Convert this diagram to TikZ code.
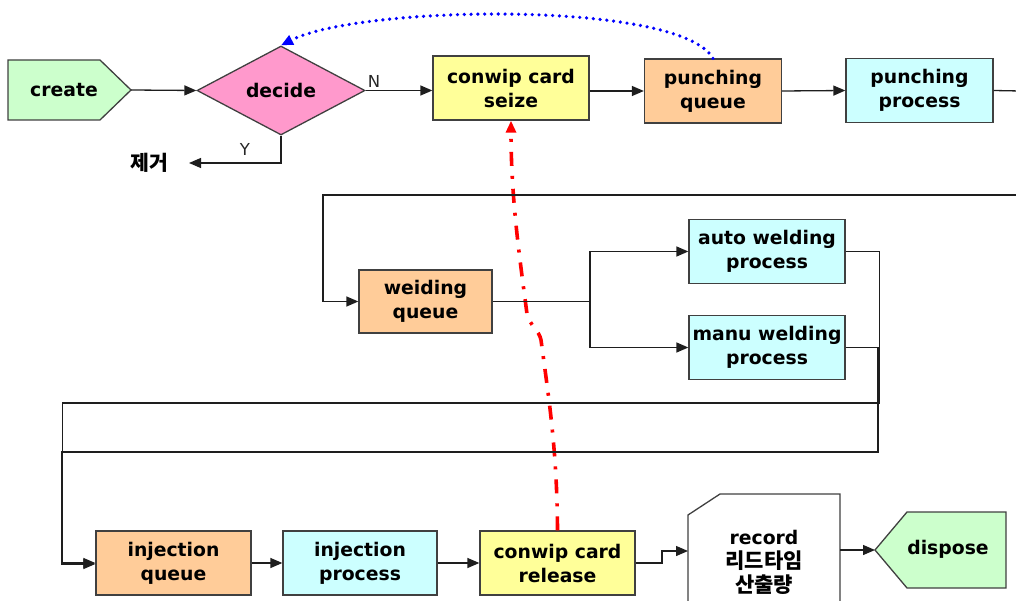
\documentclass[tikz,border=0pt]{standalone}
\usepackage{fontspec}
\setmainfont{DejaVu Sans}
\newfontfamily\kr{Noto Sans CJK KR}
\usetikzlibrary{shapes.geometric,arrows.meta,calc}

\definecolor{bordergray}{HTML}{404040}
\definecolor{linegray}{HTML}{1E1E1E}
\definecolor{fillgreen}{HTML}{CCFFCC}
\definecolor{fillpink}{HTML}{FF99CC}
\definecolor{fillyellow}{HTML}{FFFF99}
\definecolor{fillorange}{HTML}{FFCC99}
\definecolor{fillcyan}{HTML}{CCFFFF}

\tikzset{
  lbl/.style={font=\fontsize{18.8}{24}\selectfont\bfseries, align=center},
  block/.style={lbl, draw=bordergray, line width=1.3pt, minimum width=156pt,
    minimum height=64pt, inner sep=0pt},
  queuebox/.style={block, fill=fillorange},
  procbox/.style={block, fill=fillcyan},
  cardbox/.style={block, fill=fillyellow},
  termshape/.style={draw=bordergray, line width=1.3pt, fill=fillgreen},
  wire/.style={draw=linegray, line width=1.3pt},
  flow/.style={wire, -{Triangle[length=12pt,width=10pt]}},
  cardlink/.style={draw=red, line width=3.6pt, dash pattern=on 14pt off 10pt on 3pt off 10pt,
    -{Triangle[length=12pt,width=10pt]}},
  bypass/.style={draw=blue, line width=3.6pt, line cap=round, dash pattern=on 0pt off 6.8pt,
    -{Triangle[length=12pt,width=10pt]}},
  branchlbl/.style={font=\fontsize{16.5}{16.5}\selectfont, text=black!85}
}

\begin{document}
\begin{tikzpicture}[x=1pt,y=-1pt]
\useasboundingbox (0,0) rectangle (1016,601);
\clip (0,0) rectangle (1016,601);

% ---- top row ----
\draw[termshape] (8,60) -- (100,60) -- (131,90) -- (100,120) -- (8,120) -- cycle;
\node[lbl] (create) at (64,90) {create};
\coordinate (createtip) at (131,90);

\node[diamond, lbl, draw=bordergray, fill=fillpink, line width=1.3pt, inner sep=0pt,
      minimum width=168pt, minimum height=89pt] (decide) at (281,90.5) {decide};

\node[cardbox] (seize) at (511,88) {conwip card\\seize};
\node[queuebox, minimum width=137pt] (pq) at (713,91) {punching\\queue};
\node[procbox, minimum width=147pt] (pp) at (919.5,90.5) {punching\\process};

\node[font=\kr\bfseries\fontsize{20.5}{20.5}\selectfont] (remove) at (149,163) {제거};
\coordinate (rmv) at (189,163);
\node[branchlbl] (nlab) at (374,81) {N};
\node[branchlbl] (ylab) at (245,149) {Y};

% ---- welding row ----
\node[queuebox, minimum width=133pt, minimum height=63pt] (wq) at (425.5,301.5) {weiding\\queue};
\node[procbox] (aw) at (767,251.5) {auto welding\\process};
\node[procbox] (mw) at (767,347.5) {manu welding\\process};

% ---- bottom row ----
\node[queuebox, minimum width=155pt] (iq) at (173.5,563) {injection\\queue};
\node[procbox, minimum width=154pt] (ip) at (360,563) {injection\\process};
\node[cardbox, minimum width=155pt] (rel) at (557.5,563) {conwip card\\release};

\draw[draw=bordergray, line width=1.3pt, fill=white]
  (688,610) -- (688,515) -- (720,494) -- (840,494) -- (840,610);
\node[lbl] (rec) at (764,562)
  {record\\{\kr\fontsize{21}{24}\selectfont 리드타임}\\{\kr\fontsize{21}{24}\selectfont 산출량}};
\coordinate (recin) at (688,551);
\coordinate (recout) at (840,550);

\draw[termshape] (875,550) -- (907,512) -- (1006,512) -- (1006,588) -- (907,588) -- cycle;
\node[lbl] (dispose) at (948,549) {dispose};
\coordinate (disptip) at (875,550);

% ---- card loop and bypass links ----
\draw[cardlink] (rel.north) .. controls (557,450) and (549,400) .. (541,340)
  .. controls (539,330) and (530,326) .. (527,314)
  .. controls (520,260) and (511,200) .. (seize.south);
\draw[bypass] (pq.north) .. controls (680,0) and (360,5) .. (decide.north);

% ---- material flow ----
\coordinate (ppout) at (1020,91);
\coordinate (wret) at (1020,195);
\draw[flow] (createtip) -- (decide.west);
\draw[flow] (decide.east) -- (decide.east -| seize.west);
\draw[flow] (decide.south) |- (rmv);
\draw[flow] (seize.east |- pq.west) -- (pq.west);
\draw[flow] (pq.east) -- (pp.west);
\draw[wire] (pp.east) -- (ppout);
\draw[flow] (wret) -- (323,195) |- (wq.west);
\draw[wire] (wq.east) -- (590,301.5);
\draw[flow] (590,301.5) |- (aw.west);
\draw[flow] (590,301.5) |- (mw.west);
\draw[flow] (aw.east) -- (879.5,251.5) |- (62.7,403) |- (iq.west);
\draw[flow] (mw.east) -- (878,347.5) |- (61.3,452) |- ($(iq.west)+(0,1)$);
\draw[flow] (iq.east) -- (ip.west);
\draw[flow] (ip.east) -- (rel.west);
\draw[flow] (rel.east) -- (662,563) |- (recin);
\draw[flow] (recout) -- (disptip);
\end{tikzpicture}
\end{document}
